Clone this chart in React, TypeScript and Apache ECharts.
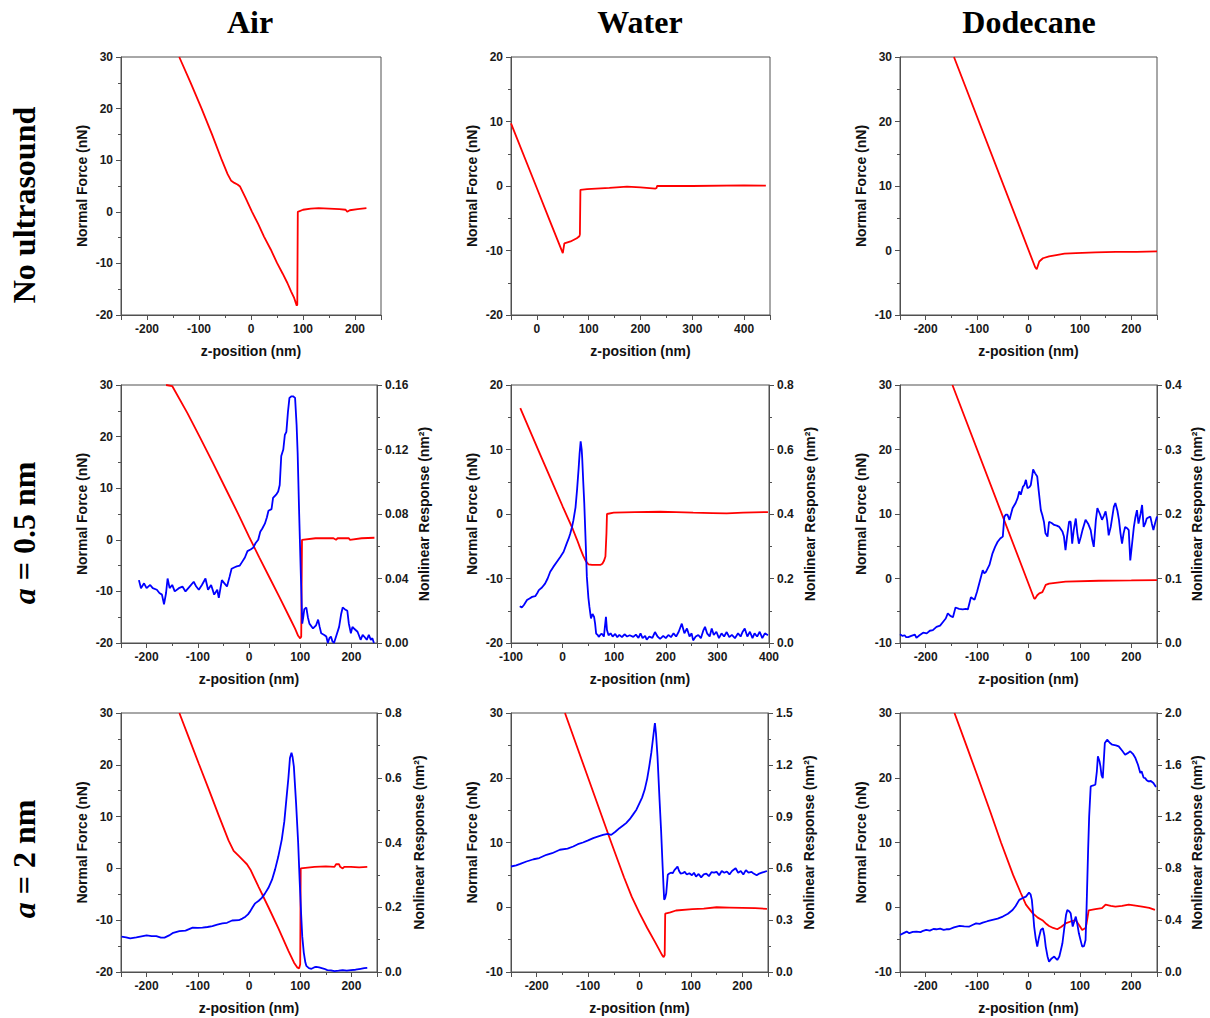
import React, { useEffect, useRef } from 'react';
import * as echarts from 'echarts';

// ---------- labels ----------
const columnTitles = ['Air', 'Water', 'Dodecane'];
const rowTitles = ['No ultrasound', '{i|a} = 0.5 nm', '{i|a} = 2 nm'];
const xName = 'z-position (nm)';
const yLeftName = 'Normal Force (nN)';
const yRightName = 'Nonlinear Response (nm²)';

// ---------- data: [z-position (nm), value] ----------
const airNoneForce: [number, number][] = [
  [-138, 30], [-116, 25], [-95, 20], [-75, 15], [-56, 10], [-45, 7.3], [-38, 6.0], [-32, 5.6], [-26, 5.3], [-21, 4.9],
  [-10, 2.6], [2, 0], [14, -2.4], [25, -4.8], [38, -7.3], [50, -9.9], [61, -12.0], [70, -13.8], [77, -15.4], [83, -16.7],
  [86, -17.6], [88, -18.2], [89, -18.0], [90, 0], [100, 0.4], [115, 0.6], [130, 0.7], [150, 0.6], [170, 0.5], [182, 0.4],
  [185, 0], [190, 0.3], [205, 0.5], [222, 0.7],
];
const waterNoneForce: [number, number][] = [
  [-50, 9.7], [0, -0.35], [25, -5.4], [50, -10.4], [53, -8.9], [65, -8.6], [77, -8.1], [82, -7.8], [83, -7.5], [84, -0.6],
  [97, -0.5], [140, -0.3], [174, -0.1], [200, -0.2], [229, -0.4], [231, -0.3], [232, 0], [300, 0], [400, 0.1], [442, 0.05],
];
const dodecaneNoneForce: [number, number][] = [
  [-145, 30], [13, -2.6], [16, -2.9], [21, -1.7], [28, -1.2], [40, -0.9], [54, -0.7], [70, -0.5], [92, -0.4], [130, -0.3],
  [170, -0.2], [210, -0.2], [250, -0.15],
];

const airSmallForce: [number, number][] = [
  [-162, 30], [-150, 29.8], [-120, 24.5], [-95, 19.7], [-70, 14.8], [-45, 9.8], [-20, 4.8], [0, 0.6], [20, -3.4],
  [40, -7.3], [60, -11.2], [80, -15.2], [90, -17.2], [96, -18.6], [100, -19.1], [102, -18.8], [103.5, 0], [130, 0.3],
  [165, 0.3], [170, 0], [173, 0.3], [195, 0.3], [197, 0], [220, 0.3], [245, 0.4],
];
const airSmallNL: [number, number][] = [
  [-215, 0.039], [-211, 0.034], [-205, 0.037], [-200, 0.034], [-193, 0.036], [-188, 0.034], [-180, 0.033], [-175, 0.031],
  [-170, 0.030], [-166, 0.024], [-162, 0.031], [-159, 0.040], [-155, 0.034], [-150, 0.036], [-145, 0.032], [-137, 0.034],
  [-130, 0.035], [-124, 0.032], [-116, 0.035], [-108, 0.038], [-103, 0.035], [-98, 0.033], [-92, 0.036], [-85, 0.040],
  [-80, 0.033], [-74, 0.036], [-68, 0.030], [-62, 0.033], [-59, 0.028], [-53, 0.039], [-48, 0.037], [-43, 0.035],
  [-38, 0.041], [-34, 0.046], [-28, 0.047], [-24, 0.0475], [-18, 0.048], [-14, 0.050], [-8, 0.053], [-3, 0.057],
  [3, 0.058], [8, 0.059], [13, 0.062], [18, 0.064], [22, 0.069], [26, 0.071], [31, 0.074], [35, 0.078], [38, 0.082],
  [44, 0.083], [47, 0.090], [53, 0.092], [57, 0.094], [60, 0.098], [63, 0.116], [67, 0.120], [70, 0.129], [73, 0.131],
  [76, 0.143], [79, 0.152], [83, 0.153], [86, 0.153], [90, 0.152], [93, 0.135], [95, 0.118], [98, 0.080], [101, 0.045],
  [104, 0.012], [106, 0.016], [108, 0.021], [112, 0.022], [115, 0.016], [118, 0.012], [125, 0.009], [131, 0.011],
  [135, 0.0145], [138, 0.010], [141, 0.006], [147, 0.005], [151, 0.004], [154, 0], [157, 0.003], [160, 0.004],
  [163, 0.001], [166, 0], [171, 0.005], [176, 0.010], [180, 0.018], [183, 0.022], [187, 0.021], [192, 0.020],
  [195, 0.012], [199, 0.006], [202, 0.010], [205, 0.009], [212, 0.007], [218, 0.002], [222, 0.005], [225, 0.004],
  [230, 0.002], [234, 0.005], [238, 0.002], [241, 0.003], [244, 0],
];

const waterSmallForce: [number, number][] = [
  [-82, 16.4], [-60, 12.3], [-40, 8.6], [-20, 4.9], [0, 1.2], [10, -0.6], [20, -2.4], [28, -4.0], [34, -5.3],
  [40, -6.5], [45, -7.3], [50, -7.8], [57, -7.9], [65, -7.9], [73, -7.9], [77, -7.7], [80, -7.3], [83, -6.6], [85, -3],
  [86, 0], [99, 0.2], [140, 0.3], [189, 0.35], [220, 0.3], [253, 0.2], [290, 0.15], [318, 0.1], [350, 0.2], [398, 0.3],
];
const waterSmallNL: [number, number][] = [
  [-83, 0.114], [-79, 0.110], [-75, 0.118], [-69, 0.133], [-64, 0.138], [-59, 0.143], [-53, 0.145], [-49, 0.155],
  [-46, 0.164], [-40, 0.172], [-34, 0.184], [-29, 0.200], [-24, 0.221], [-18, 0.236], [-11, 0.252], [-4.5, 0.267],
  [2, 0.283], [8, 0.309], [12, 0.325], [15, 0.340], [18, 0.358], [21, 0.381], [25, 0.42], [28, 0.475], [31, 0.54],
  [33, 0.589], [35, 0.625], [37, 0.60], [38, 0.573], [40, 0.50], [42, 0.433], [45, 0.30], [47, 0.205], [50, 0.14],
  [52, 0.112], [55, 0.076], [58, 0.090], [61, 0.081], [63, 0.06], [65, 0.029], [68, 0.025], [70, 0.019], [74, 0.027],
  [76, 0.029], [80, 0.02], [84, 0.081], [86, 0.04], [89, 0.024], [93, 0.030], [97, 0.020], [102, 0.028], [106, 0.018],
  [110, 0.025], [115, 0.018], [120, 0.027], [125, 0.020], [130, 0.024], [137, 0.019], [142, 0.026], [147, 0.016],
  [151, 0.03], [155, 0.015], [160, 0.022], [163, 0.01], [168, 0.02], [174, 0.016], [179, 0.034], [184, 0.02],
  [189, 0.013], [195, 0.022], [200, 0.015], [205, 0.025], [210, 0.018], [215, 0.03], [220, 0.02], [225, 0.035],
  [231, 0.06], [236, 0.03], [241, 0.045], [246, 0.02], [250, 0.03], [253, 0.008], [258, 0.02], [263, 0.025],
  [268, 0.015], [273, 0.04], [276, 0.05], [280, 0.03], [285, 0.02], [289, 0.045], [293, 0.025], [298, 0.035],
  [303, 0.015], [308, 0.03], [313, 0.02], [318, 0.034], [323, 0.018], [328, 0.025], [334, 0.015], [340, 0.03],
  [345, 0.02], [349, 0.035], [353, 0.045], [358, 0.02], [363, 0.035], [368, 0.015], [372, 0.03], [377, 0.02],
  [382, 0.035], [387, 0.015], [392, 0.03], [398, 0.024],
];

const dodecaneSmallForce: [number, number][] = [
  [-148, 30], [11, -3.1], [13, -3.1], [17, -2.6], [21, -2.3], [27, -2.1], [30, -1.6], [33.5, -1.0], [40, -0.8],
  [72, -0.5], [137, -0.35], [200, -0.3], [250, -0.25],
];
const dodecaneSmallNL: [number, number][] = [
  [-250, 0.0135], [-245, 0.011], [-241, 0.012], [-238, 0.009], [-234, 0.009], [-228, 0.011], [-221, 0.013],
  [-218, 0.008], [-212, 0.012], [-205, 0.016], [-198, 0.015], [-192, 0.019], [-186, 0.020], [-179, 0.025],
  [-172, 0.027], [-166, 0.033], [-161, 0.038], [-157, 0.046], [-152, 0.042], [-147, 0.040], [-142, 0.055],
  [-135, 0.053], [-128, 0.052], [-122, 0.053], [-118, 0.052], [-112, 0.071], [-105, 0.067], [-100, 0.080],
  [-96, 0.092], [-92, 0.104], [-89, 0.113], [-86, 0.108], [-83, 0.110], [-76, 0.121], [-70, 0.139], [-65, 0.149],
  [-60, 0.157], [-55, 0.162], [-50, 0.165], [-47, 0.196], [-44, 0.199], [-41, 0.199], [-37, 0.191], [-34, 0.200],
  [-31, 0.209], [-25, 0.217], [-21, 0.225], [-18, 0.235], [-15, 0.230], [-11, 0.242], [-8, 0.245], [-5, 0.253],
  [-2, 0.240], [2, 0.242], [4.5, 0.245], [7, 0.258], [9, 0.269], [13, 0.263], [17, 0.258], [20, 0.235], [24, 0.206],
  [27, 0.198], [30, 0.188], [33, 0.170], [37, 0.165], [40, 0.188], [45, 0.186], [50, 0.183], [55, 0.182], [60, 0.180],
  [66, 0.173], [69, 0.165], [72, 0.144], [75, 0.165], [79, 0.188], [82, 0.188], [85, 0.154], [88, 0.175], [92, 0.193],
  [95, 0.170], [98, 0.154], [102, 0.165], [105, 0.175], [111, 0.191], [116, 0.185], [121, 0.175], [124, 0.160],
  [127, 0.149], [131, 0.190], [134, 0.209], [139, 0.200], [143, 0.191], [147, 0.198], [150, 0.204], [153, 0.190],
  [156, 0.167], [160, 0.180], [166, 0.211], [169, 0.217], [173, 0.205], [176, 0.191], [179, 0.170], [182, 0.154],
  [185, 0.170], [188, 0.180], [192, 0.178], [195, 0.175], [198, 0.128], [201, 0.150], [205, 0.180], [208, 0.195],
  [211, 0.206], [214, 0.185], [218, 0.200], [221, 0.214], [224, 0.180], [227, 0.185], [230, 0.193], [234, 0.195],
  [237, 0.196], [240, 0.185], [243, 0.175], [246, 0.185], [250, 0.196],
];

const airLargeForce: [number, number][] = [
  [-136, 30], [-117, 25.1], [-98, 20.2], [-78, 15.1], [-59, 10.2], [-40, 5.4], [-30, 3.4], [-20, 2.4], [-10, 1.4],
  [-4, 0.8], [2.6, -0.2], [19, -3.6], [38, -7.5], [57, -11.5], [77, -15.9], [88, -18.2], [94, -19.1], [98, -19.3],
  [100, -18.5], [101, 0], [128, 0.3], [150, 0.4], [167, 0.3], [170, 0.8], [176, 0.8], [178, 0.3], [183, 0], [186, 0.3],
  [199, 0.3], [215, 0.2], [231, 0.3],
];
const airLargeNL: [number, number][] = [
  [-249, 0.109], [-240, 0.107], [-232, 0.104], [-220, 0.107], [-210, 0.110], [-200, 0.113], [-190, 0.111],
  [-181, 0.111], [-172, 0.106], [-165, 0.106], [-156, 0.113], [-148, 0.121], [-136, 0.126], [-124, 0.128],
  [-110, 0.137], [-100, 0.136], [-91, 0.137], [-81, 0.139], [-71.5, 0.142], [-62, 0.146], [-52, 0.150], [-43, 0.152],
  [-33, 0.159], [-20, 0.160], [-13, 0.165], [-7, 0.171], [-2, 0.178], [2.6, 0.188], [7, 0.200], [12, 0.212],
  [19, 0.220], [25, 0.229], [31, 0.242], [38, 0.260], [45, 0.285], [51, 0.317], [57, 0.355], [64, 0.409], [69, 0.465],
  [73, 0.533], [77, 0.60], [80, 0.661], [83, 0.677], [85, 0.665], [87.6, 0.635], [92, 0.52], [96, 0.399], [99, 0.28],
  [102, 0.173], [104, 0.11], [107, 0.060], [110, 0.030], [112, 0.019], [117, 0.012], [122, 0.010], [127, 0.014],
  [131, 0.016], [137, 0.014], [142, 0.012], [147, 0.010], [153, 0.006], [160, 0.005], [167, 0.003], [175, 0.004],
  [183, 0.006], [191, 0.004], [199, 0.006], [208, 0.007], [218, 0.010], [225, 0.012], [231, 0.013],
];

const waterLargeForce: [number, number][] = [
  [-145, 30], [-100, 20], [-55, 10], [-30, 4.6], [-15, 1.6], [0, -0.9], [15, -3.2], [29, -5.2], [38, -6.5], [44, -7.4],
  [47, -7.7], [49, -7.4], [50, -1.0], [60, -0.8], [71, -0.5], [103, -0.3], [125, -0.2], [150, 0], [175, -0.05],
  [200, -0.1], [225, -0.15], [248, -0.25],
];
const waterLargeNL: [number, number][] = [
  [-250, 0.611], [-240, 0.618], [-232, 0.626], [-220, 0.640], [-206, 0.653], [-195, 0.660], [-181, 0.679],
  [-170, 0.688], [-155, 0.708], [-140, 0.715], [-129, 0.727], [-120, 0.740], [-110, 0.750], [-100, 0.762],
  [-90, 0.775], [-80, 0.785], [-71, 0.794], [-62, 0.800], [-55, 0.794], [-47, 0.812], [-39, 0.833], [-32, 0.848],
  [-26, 0.862], [-19, 0.885], [-13, 0.910], [-6, 0.940], [0, 0.978], [5, 1.010], [10, 1.055], [15, 1.12], [19, 1.191],
  [23, 1.27], [26, 1.345], [29, 1.42], [30, 1.442], [32, 1.384], [35, 1.25], [39, 0.997], [42, 0.82], [45, 0.611],
  [47, 0.48], [48, 0.418], [50, 0.43], [52, 0.456], [55, 0.563], [58, 0.57], [61, 0.575], [64.5, 0.572], [68, 0.59],
  [71, 0.60], [74, 0.611], [77, 0.585], [80, 0.570], [84, 0.572], [88, 0.58], [92, 0.565], [97, 0.572], [102, 0.56],
  [106, 0.575], [110, 0.553], [115, 0.568], [120, 0.548], [125, 0.565], [130, 0.570], [135, 0.555], [140, 0.578],
  [145, 0.575], [150, 0.580], [155, 0.560], [160, 0.585], [165, 0.575], [170, 0.582], [175, 0.565], [180, 0.585],
  [187, 0.601], [192, 0.575], [197, 0.585], [202, 0.565], [207, 0.590], [212, 0.575], [218, 0.580], [222, 0.570],
  [228, 0.560], [233, 0.570], [238, 0.575], [243, 0.580], [248, 0.585],
];

const dodecaneLargeForce: [number, number][] = [
  [-144, 30], [-120, 24.8], [-98, 20], [-75, 14.9], [-53.5, 10], [-30, 5], [-15, 2.2], [-5, 0.4], [8, -0.9],
  [18, -1.6], [27, -2.0], [35, -2.6], [40, -2.9], [48, -3.2], [56, -3.4], [64, -3.0], [72, -2.5], [82, -2.2],
  [92, -2.0], [98, -2.7], [104.5, -3.5], [111, -3.2], [113, -2.5], [117, -0.5], [130, -0.3], [143, -0.15], [150, 0.4],
  [160, 0.2], [169, 0.1], [182, 0.2], [195, 0.4], [205, 0.3], [221, 0.1], [235, -0.1], [246, -0.4],
];
const dodecaneLargeNL: [number, number][] = [
  [-250, 0.286], [-243, 0.300], [-237, 0.312], [-232, 0.300], [-225, 0.310], [-218, 0.312], [-210, 0.308],
  [-205, 0.318], [-199, 0.325], [-192, 0.320], [-185, 0.332], [-179, 0.330], [-172, 0.335], [-165, 0.325],
  [-160, 0.330], [-154, 0.330], [-145, 0.345], [-134, 0.356], [-125, 0.352], [-115, 0.351], [-108, 0.365],
  [-102, 0.376], [-95, 0.372], [-89, 0.381], [-80, 0.392], [-70, 0.402], [-60, 0.412], [-50, 0.428], [-40, 0.450],
  [-31, 0.479], [-25, 0.510], [-18, 0.557], [-12, 0.570], [-5, 0.582], [1, 0.613], [4, 0.60], [6.5, 0.557], [9, 0.45],
  [11, 0.351], [14, 0.26], [17, 0.196], [20, 0.26], [24, 0.325], [28, 0.338], [31, 0.28], [33.5, 0.196], [37, 0.12],
  [40, 0.080], [45, 0.105], [50, 0.119], [53, 0.105], [56, 0.093], [60, 0.12], [63, 0.17], [66, 0.222], [70, 0.35],
  [73, 0.44], [75.5, 0.479], [79, 0.470], [82, 0.454], [84, 0.40], [86, 0.351], [89, 0.39], [92, 0.428], [95, 0.37],
  [98, 0.299], [101, 0.25], [104.5, 0.196], [108, 0.20], [111, 0.247], [113, 0.50], [116, 0.943], [118, 1.20],
  [121, 1.433], [125, 1.44], [130, 1.446], [133, 1.55], [135, 1.665], [138, 1.63], [140, 1.588], [142, 1.52],
  [144.5, 1.497], [146, 1.60], [148.5, 1.768], [153, 1.794], [158, 1.77], [163, 1.755], [170, 1.750], [175.5, 1.742],
  [182, 1.71], [188, 1.678], [193, 1.690], [198, 1.704], [203, 1.685], [208, 1.652], [213, 1.600], [217.5, 1.536],
  [220, 1.55], [224, 1.50], [227, 1.497], [230, 1.48], [233.5, 1.472], [238, 1.475], [243, 1.459], [248, 1.428],
];

// ---------- axis ranges ----------
const xRanges: [number, number][] = [
  [-250, 250], [-50, 450], [-250, 250],
  [-250, 250], [-100, 400], [-250, 250],
  [-250, 250], [-250, 250], [-250, 250],
];
const forceRanges: [number, number][] = [
  [-20, 30], [-20, 20], [-10, 30],
  [-20, 30], [-20, 20], [-10, 30],
  [-20, 30], [-10, 30], [-10, 30],
];
const responseMax = [null, null, null, 0.16, 0.8, 0.4, 0.8, 1.5, 2.0];
const responseInterval = [null, null, null, 0.04, 0.2, 0.1, 0.2, 0.3, 0.4];
const responseDigits = [0, 0, 0, 2, 1, 1, 1, 1, 1];

const forceSeries = [
  airNoneForce, waterNoneForce, dodecaneNoneForce,
  airSmallForce, waterSmallForce, dodecaneSmallForce,
  airLargeForce, waterLargeForce, dodecaneLargeForce,
];
const responseSeries = [
  null, null, null,
  airSmallNL, waterSmallNL, dodecaneSmallNL,
  airLargeNL, waterLargeNL, dodecaneLargeNL,
];

// ---------- layout ----------
const gridBoxes = [
  { left: 121, top: 57, width: 260, height: 258 },
  { left: 511, top: 57, width: 259, height: 258 },
  { left: 900, top: 57, width: 257, height: 258 },
  { left: 121, top: 385, width: 256, height: 258 },
  { left: 511, top: 385, width: 258, height: 258 },
  { left: 900, top: 385, width: 257, height: 258 },
  { left: 121, top: 713, width: 256, height: 259 },
  { left: 511, top: 713, width: 257, height: 259 },
  { left: 900, top: 713, width: 257, height: 259 },
];
const rightNameGap = [0, 0, 0, 40, 34, 33, 35, 34, 33];

const SANS = 'Arial, "Liberation Sans", Helvetica, sans-serif';
const SERIF = '"Times New Roman", "Liberation Serif", serif';
const AXIS_COLOR = '#505050';
const TEXT_COLOR = '#1a1a1a';

function buildOption() {
  const grid: any[] = [];
  const xAxis: any[] = [];
  const yAxis: any[] = [];
  const series: any[] = [];

  const lineStyle = { color: AXIS_COLOR, width: 1 };
  const labelStyle = { fontFamily: SANS, fontWeight: 'bold', fontSize: 12, color: TEXT_COLOR };
  const nameStyle = { fontFamily: SANS, fontWeight: 'bold', fontSize: 14, color: '#111' };

  gridBoxes.forEach((box, i) => {
    grid.push({ ...box, show: true, borderColor: AXIS_COLOR, borderWidth: 1, backgroundColor: 'transparent' });
    xAxis.push({
      type: 'value',
      gridIndex: i,
      min: xRanges[i][0],
      max: xRanges[i][1],
      splitNumber: 5,
      axisLine: { show: true, onZero: false, lineStyle },
      axisTick: { show: true, inside: false, length: 5, lineStyle },
      minorTick: { show: true, splitNumber: 2, length: 3, lineStyle },
      splitLine: { show: false },
      minorSplitLine: { show: false },
      axisLabel: {
        ...labelStyle,
        margin: 8,
        formatter: (v: number) => (Math.abs(v % 100) < 1e-6 ? String(v) : ''),
      },
      name: xName,
      nameLocation: 'middle',
      nameGap: 29,
      nameTextStyle: nameStyle,
    });
    const leftIndex = yAxis.length;
    yAxis.push({
      type: 'value',
      gridIndex: i,
      position: 'left',
      min: forceRanges[i][0],
      max: forceRanges[i][1],
      interval: 10,
      axisLine: { show: true, onZero: false, lineStyle },
      axisTick: { show: true, inside: false, length: 5, lineStyle },
      minorTick: { show: true, splitNumber: 2, length: 3, lineStyle },
      splitLine: { show: false },
      minorSplitLine: { show: false },
      axisLabel: { ...labelStyle, margin: 8 },
      name: yLeftName,
      nameLocation: 'middle',
      nameGap: 32,
      nameRotate: 90,
      nameTextStyle: nameStyle,
    });
    series.push({
      type: 'line',
      xAxisIndex: i,
      yAxisIndex: leftIndex,
      data: forceSeries[i],
      showSymbol: false,
      symbol: 'none',
      silent: true,
      lineStyle: { color: '#ff0000', width: 1.8 },
      itemStyle: { color: '#ff0000' },
    });
    const resp = responseSeries[i];
    if (resp) {
      const rightIndex = yAxis.length;
      const digits = responseDigits[i];
      yAxis.push({
        type: 'value',
        gridIndex: i,
        position: 'right',
        min: 0,
        max: responseMax[i],
        interval: responseInterval[i],
        axisLine: { show: true, onZero: false, lineStyle },
        axisTick: { show: true, inside: false, length: 5, lineStyle },
        minorTick: { show: true, splitNumber: 2, length: 3, lineStyle },
        splitLine: { show: false },
        minorSplitLine: { show: false },
        axisLabel: { ...labelStyle, margin: 8, formatter: (v: number) => v.toFixed(digits) },
        name: yRightName,
        nameLocation: 'middle',
        nameGap: rightNameGap[i],
        nameRotate: 90,
        nameTextStyle: nameStyle,
      });
      series.push({
        type: 'line',
        xAxisIndex: i,
        yAxisIndex: rightIndex,
        data: resp,
        showSymbol: false,
        symbol: 'none',
        silent: true,
        lineStyle: { color: '#0000ff', width: 1.8 },
        itemStyle: { color: '#0000ff' },
      });
    }
  });

  const colCenters = [250, 640, 1029];
  const rowCenters = [205, 533, 859];
  const graphic: any[] = [];
  columnTitles.forEach((t, c) => {
    graphic.push({
      type: 'text',
      x: colCenters[c],
      y: 22,
      style: {
        text: t,
        fontFamily: SERIF,
        fontWeight: 'bold',
        fontSize: 32,
        fill: '#000',
        align: 'center',
        verticalAlign: 'middle',
      },
    });
  });
  rowTitles.forEach((t, r) => {
    graphic.push({
      type: 'text',
      x: 24,
      y: rowCenters[r],
      rotation: Math.PI / 2,
      style: {
        text: t,
        fontFamily: SERIF,
        fontWeight: 'bold',
        fontSize: 32,
        fill: '#000',
        align: 'center',
        verticalAlign: 'middle',
        rich: {
          i: { fontFamily: SERIF, fontWeight: 'bold', fontStyle: 'italic', fontSize: 32, fill: '#000' },
        },
      },
    });
  });

  return {
    animation: false,
    backgroundColor: '#ffffff',
    grid,
    xAxis,
    yAxis,
    series,
    graphic,
  };
}

export default function App() {
  const ref = useRef<HTMLDivElement>(null);
  useEffect(() => {
    if (!ref.current) return;
    const chart = echarts.init(ref.current, undefined, { renderer: 'svg' });
    chart.setOption(buildOption() as any);
    return () => chart.dispose();
  }, []);
  return (
    <div
      ref={ref}
      style={{ position: 'absolute', left: 0, top: 0, width: 1210, height: 1018 }}
    />
  );
}
